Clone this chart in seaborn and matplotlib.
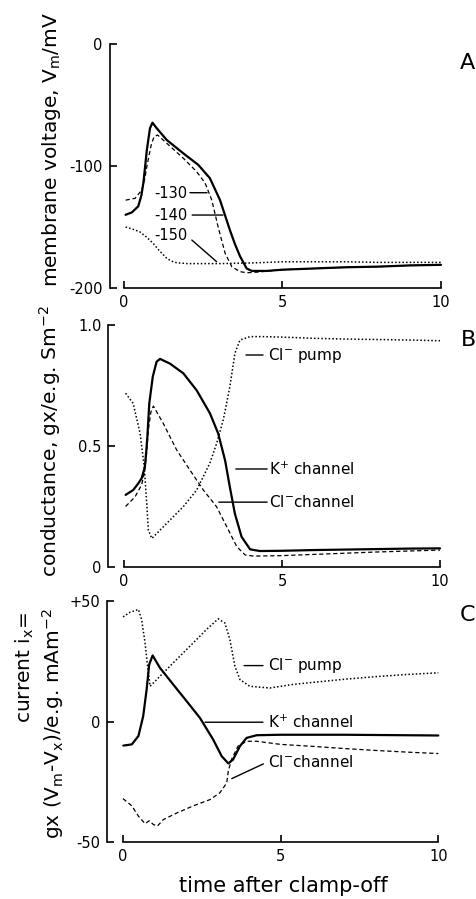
import matplotlib
matplotlib.use("Agg")
import matplotlib.pyplot as plt
import seaborn as sns
import pandas as pd

# ---------------- data ----------------
# Panel A: membrane voltage (mV) for three clamp voltages
A_t_130 = [0.05, 0.35, 0.56, 0.65, 0.72, 0.8, 0.87, 0.95, 1.06, 1.35, 1.87, 2.29, 2.56, 2.77, 2.97, 3.19, 3.40, 3.66, 3.87, 4.2, 4.6, 5, 6, 7, 8, 9, 10]
A_v_130 = [-128, -126.5, -119.7, -111, -100.6, -90, -81.4, -76, -74.6, -81.4, -93.6, -104.6, -114, -128, -150, -171.6, -182.5, -186.6, -187.5, -187, -186, -185, -184, -183, -182.5, -181.5, -181]
A_t_140 = [0.05, 0.25, 0.45, 0.55, 0.61, 0.66, 0.72, 0.82, 0.9, 1.03, 1.35, 1.87, 2.34, 2.71, 3.03, 3.34, 3.5, 3.66, 3.87, 4.03, 4.5, 5, 6, 7, 8, 9, 10]
A_v_140 = [-140, -138, -133, -124, -114, -102, -87, -69, -64.5, -69, -78.7, -89.6, -99, -110, -128, -152.5, -164, -174, -184, -186, -186, -185, -184, -183, -182.5, -181.5, -181]
A_t_150 = [0.05, 0.3, 0.5, 0.7, 0.92, 1.1, 1.35, 1.5, 1.66, 2.0, 2.5, 3, 4, 5, 6, 7, 8, 9, 10]
A_v_150 = [-150, -152, -154, -158, -163.4, -169, -175.7, -178, -179.3, -180, -180, -180, -179.5, -178.5, -178.5, -178.5, -179, -179, -179]
A_labels = ["-130", "-140", "-150"]

# Panel B: conductance
B_t_K = [0.05, 0.29, 0.45, 0.56, 0.66, 0.70, 0.74, 0.80, 0.91, 1.03, 1.14, 1.46, 1.88, 2.30, 2.72, 2.98, 3.2, 3.35, 3.51, 3.72, 3.99, 4.3, 5, 6, 7, 8, 9, 10]
B_g_K = [0.298, 0.318, 0.345, 0.367, 0.414, 0.47, 0.539, 0.676, 0.786, 0.848, 0.86, 0.84, 0.80, 0.73, 0.635, 0.552, 0.44, 0.33, 0.22, 0.125, 0.073, 0.066, 0.067, 0.07, 0.072, 0.074, 0.076, 0.077]
B_t_Clch = [0.05, 0.35, 0.56, 0.66, 0.72, 0.77, 0.85, 0.93, 1.24, 1.67, 2.09, 2.51, 2.93, 3.25, 3.57, 3.83, 4.1, 5, 6, 7, 8, 9, 10]
B_g_Clch = [0.25, 0.29, 0.34, 0.40, 0.48, 0.566, 0.64, 0.665, 0.594, 0.483, 0.40, 0.318, 0.249, 0.167, 0.084, 0.05, 0.045, 0.047, 0.052, 0.057, 0.062, 0.066, 0.07]
B_t_Clp = [0.05, 0.29, 0.51, 0.64, 0.72, 0.77, 0.88, 1.35, 1.88, 2.3, 2.72, 2.93, 3.14, 3.35, 3.51, 3.67, 3.99, 4.4, 5, 6, 7, 8, 9, 10]
B_g_Clp = [0.718, 0.676, 0.552, 0.414, 0.263, 0.153, 0.118, 0.18, 0.25, 0.318, 0.43, 0.51, 0.607, 0.745, 0.883, 0.938, 0.952, 0.952, 0.95, 0.945, 0.942, 0.94, 0.938, 0.935]

# Panel C: currents
C_t_K = [0.01, 0.28, 0.49, 0.64, 0.75, 0.83, 0.94, 1.17, 1.59, 2.02, 2.44, 2.86, 3.13, 3.34, 3.49, 3.71, 3.92, 4.24, 5, 6, 7, 8, 9, 10]
C_i_K = [-10, -9.5, -6, 2.2, 13.3, 23.6, 27.4, 22.3, 15.4, 8.4, 1.5, -7.5, -14.4, -17.4, -15.8, -10.2, -6.8, -5.7, -5.5, -5.5, -5.5, -5.6, -5.7, -5.8]
C_t_Clch = [0.0, 0.28, 0.49, 0.70, 0.83, 0.96, 1.09, 1.28, 1.70, 2.23, 2.76, 3.07, 3.29, 3.34, 3.44, 3.65, 3.92, 4.24, 5, 6, 7, 8, 9, 10]
C_i_Clch = [-32, -35, -39.3, -42.4, -41.2, -42.7, -43.4, -40.7, -38, -35, -32.4, -29.6, -25.5, -20.6, -15.8, -10.2, -8.2, -8.2, -9.5, -10.3, -11.2, -12, -12.7, -13.3]
C_t_Clp = [0.0, 0.22, 0.49, 0.59, 0.70, 0.78, 0.86, 1.07, 1.59, 2.12, 2.65, 3.02, 3.23, 3.39, 3.55, 3.71, 4.02, 4.66, 5.4, 6, 7, 8, 9, 10]
C_i_Clp = [43.4, 45.3, 46.5, 42.3, 32.6, 22.9, 14.6, 17.4, 24.3, 31.2, 38.2, 42.6, 40.9, 34, 22.9, 17.4, 14.6, 13.9, 15.4, 16.2, 17.5, 18.6, 19.5, 20.2]

x_ticks = [0, 5, 10]
A_yticks = [-200, -100, 0]
A_yticklabels = ["-200", "-100", "0"]
B_yticks = [0, 0.5, 1.0]
B_yticklabels = ["0", "0.5", "1.0"]
C_yticks = [-50, 0, 50]
C_yticklabels = ["-50", "0", "+50"]

# ---------------- style ----------------
sns.set_theme(style="ticks")
plt.rcParams["font.family"] = ["DejaVu Sans"]
plt.rcParams["mathtext.fontset"] = "dejavusans"
for k in ("text.color", "axes.labelcolor", "xtick.color", "ytick.color", "axes.edgecolor"):
    plt.rcParams[k] = "black"

W, H = 477, 899
fig = plt.figure(figsize=(W / 100, H / 100), dpi=100)
fig.patch.set_facecolor("white")

SOLID = dict(color="black", lw=1.6, linestyle="-")
DASH = dict(color="black", lw=0.9, linestyle=(0, (3.4, 2.2)))
DOT = dict(color="black", lw=1.1, linestyle=(0, (1, 1.4)))


def px_axes(left_px, x0_px, x10_px, top_px, bottom_px, y0, y1):
    ppu = (x10_px - x0_px) / 10.0
    xmin = (left_px - x0_px) / ppu
    xmax = 10.05
    width_px = (xmax - xmin) * ppu
    ax = fig.add_axes([left_px / W, (H - bottom_px) / H, width_px / W, (bottom_px - top_px) / H])
    ax.set_xlim(xmin, xmax)
    ax.set_ylim(y0, y1)
    return ax


def style_axes(ax, yticks, ylabels, ybounds):
    ax.set_facecolor("white")
    sns.despine(ax=ax)
    ax.spines["left"].set_bounds(*ybounds)
    ax.spines["bottom"].set_bounds(0, 10)
    for s in ("left", "bottom"):
        ax.spines[s].set_linewidth(1.2)
        ax.spines[s].set_color("black")
    ax.set_xticks(x_ticks)
    ax.set_xticklabels([str(v) for v in x_ticks])
    ax.set_yticks(yticks)
    ax.set_yticklabels(ylabels)
    ax.tick_params(direction="in", length=5, width=1.2, labelsize=10.5,
                   colors="black", labelcolor="black", pad=5)
    ax.set_xlabel("")
    ax.set_ylabel("")
    ax.grid(False)


def draw(ax, t, v, style):
    df = pd.DataFrame({"t": t, "v": v})
    sns.lineplot(data=df, x="t", y="v", ax=ax, estimator=None, sort=False, **style)


def leader(ax, x0, y0, x1, y1):
    ax.annotate("", xy=(x0, y0), xytext=(x1, y1),
                arrowprops=dict(arrowstyle="-", lw=1.0, color="black",
                                shrinkA=0, shrinkB=0))


# ---------------- Panel A ----------------
axA = px_axes(109.7, 124, 441, 44, 288, -200, 0)
draw(axA, A_t_130, A_v_130, DASH)
draw(axA, A_t_140, A_v_140, SOLID)
draw(axA, A_t_150, A_v_150, DOT)
style_axes(axA, A_yticks, A_yticklabels, (-200, 0))
axA.text(1.99, -122.4, A_labels[0], ha="right", va="center", fontsize=10.5, color="black")
axA.text(1.99, -140.2, A_labels[1], ha="right", va="center", fontsize=10.5, color="black")
axA.text(1.99, -156.6, A_labels[2], ha="right", va="center", fontsize=10.5, color="black")
leader(axA, 2.08, -121.9, 2.62, -121.9)
leader(axA, 2.15, -140.2, 3.12, -140.2)
leader(axA, 2.14, -160.7, 2.92, -178.4)

# ---------------- Panel B ----------------
axB = px_axes(108.3, 124, 440, 325, 567, 0, 1.0)
draw(axB, B_t_Clp, B_g_Clp, DOT)
draw(axB, B_t_Clch, B_g_Clch, DASH)
draw(axB, B_t_K, B_g_K, SOLID)
style_axes(axB, B_yticks, B_yticklabels, (0, 1.0))
leader(axB, 3.86, 0.876, 4.40, 0.876)
leader(axB, 3.54, 0.405, 4.53, 0.405)
leader(axB, 3.00, 0.268, 4.53, 0.268)
axB.text(4.56, 0.876, r"Cl$^{\mathregular{-}}$ pump", ha="left", va="center", fontsize=11, color="black")
axB.text(4.59, 0.405, r"K$^{\mathregular{+}}$ channel", ha="left", va="center", fontsize=11, color="black")
axB.text(4.59, 0.268, r"Cl$^{\mathregular{-}}$channel", ha="left", va="center", fontsize=11, color="black")

# ---------------- Panel C ----------------
axC = px_axes(107.3, 123, 438.3, 601, 842, -50, 50)
draw(axC, C_t_Clp, C_i_Clp, DOT)
draw(axC, C_t_Clch, C_i_Clch, DASH)
draw(axC, C_t_K, C_i_K, SOLID)
style_axes(axC, C_yticks, C_yticklabels, (-50, 50))
leader(axC, 3.84, 23.2, 4.44, 23.2)
leader(axC, 2.60, -0.3, 4.44, -0.3)
leader(axC, 3.45, -23.7, 4.45, -17.6)
axC.text(4.60, 23.2, r"Cl$^{\mathregular{-}}$ pump", ha="left", va="center", fontsize=11, color="black")
axC.text(4.60, -0.3, r"K$^{\mathregular{+}}$ channel", ha="left", va="center", fontsize=11, color="black")
axC.text(4.60, -17.0, r"Cl$^{\mathregular{-}}$channel", ha="left", va="center", fontsize=11, color="black")

# ---------------- labels ----------------
def ftext(xpx, ypx, s, **kw):
    fig.text(xpx / W, (H - ypx) / H, s, color="black", **kw)

ftext(52, 150, r"membrane voltage, V$_{\mathregular{m}}$/mV", rotation=90, ha="center", va="center", fontsize=14.5)
ftext(50, 441, r"conductance, gx/e.g. Sm$^{\mathregular{-2}}$", rotation=90, ha="center", va="center", fontsize=14.5)
ftext(25, 667, r"current i$_{\mathregular{x}}$=", rotation=90, ha="center", va="center", fontsize=14.5)
ftext(53, 724, r"gx (V$_{\mathregular{m}}$-V$_{\mathregular{x}}$)/e.g. mAm$^{\mathregular{-2}}$", rotation=90, ha="center", va="center", fontsize=14.5)
ftext(283, 886, "time after clamp-off", ha="center", va="center", fontsize=15)

ftext(460, 63, "A", ha="left", va="center", fontsize=16)
ftext(461, 340, "B", ha="left", va="center", fontsize=16)
ftext(460, 615, "C", ha="left", va="center", fontsize=16)

fig.savefig("out.png", dpi=100, facecolor="white")
